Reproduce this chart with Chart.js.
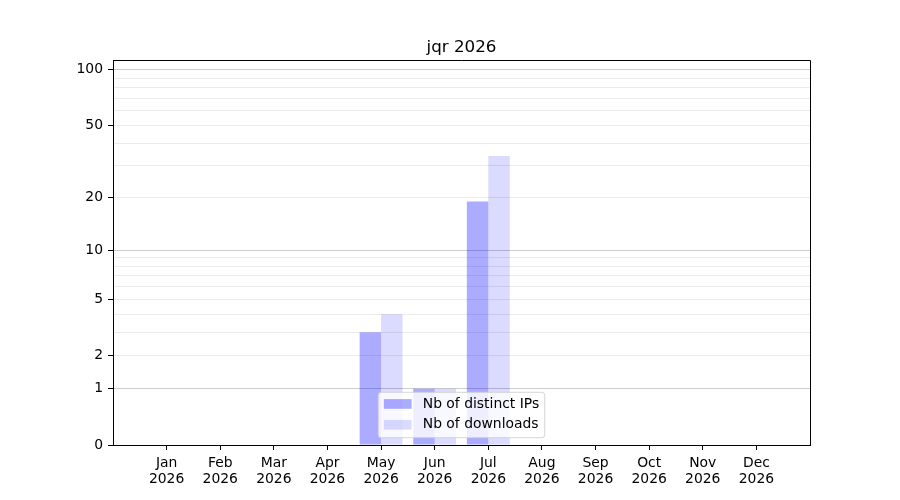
<!DOCTYPE html>
<html>
<head>
<meta charset="utf-8">
<title>jqr 2026</title>
<script src="https://cdn.jsdelivr.net/npm/chart.js@4.4.1/dist/chart.umd.min.js"></script>
<style>
  body { margin: 0; background: #fff; }
</style>
</head>
<body>
<canvas id="mycanvas" width="900" height="500"></canvas>
<script>
var months = ['Jan', 'Feb', 'Mar', 'Apr', 'May', 'Jun', 'Jul', 'Aug', 'Sep', 'Oct', 'Nov', 'Dec'];
var year = '2026';
var distinctIPs = [0, 0, 0, 0, 3, 1, 19, 0, 0, 0, 0, 0];
var downloads = [0, 0, 0, 0, 4, 1, 34, 0, 0, 0, 0, 0];
var yLabelled = [0, 1, 2, 5, 10, 20, 50, 100];
var yMinor = [3, 4, 6, 7, 8, 9, 30, 40, 60, 70, 80, 90];
var yMajorGrid = [1, 10, 100];
var yTop = 113;
var title = 'jqr 2026';

var FONT = 'DejaVu Sans';
var FS = 13.9;

// symlog-like axis: position = log10(1 + v)
function f(v) { return Math.log10(1 + v); }
function inv(p) { return Math.round(Math.pow(10, p) - 1); }

var ipColor = 'rgba(0, 0, 255, 0.33)';
var dlColor = 'rgba(0, 0, 255, 0.14)';

var yAll = yLabelled.concat(yMinor).sort(function(a, b) { return a - b; });

var framePlugin = {
  id: 'frame',
  afterDatasetsDraw: function(chart) {
    var ctx = chart.ctx, a = chart.chartArea;
    ctx.save();
    ctx.strokeStyle = '#000';
    ctx.lineWidth = 1;
    ctx.beginPath();
    ctx.moveTo(a.left, a.top + 0.5);
    ctx.lineTo(a.right + 0.5, a.top + 0.5);
    ctx.lineTo(a.right + 0.5, a.bottom);
    ctx.stroke();
    ctx.restore();
  },
  afterDraw: function(chart) {
    var ctx = chart.ctx, a = chart.chartArea;
    ctx.save();
    // title, centred over the plot
    ctx.font = '16.7px "' + FONT + '"';
    ctx.fillStyle = '#000';
    ctx.textAlign = 'center';
    ctx.textBaseline = 'alphabetic';
    ctx.fillText(title, (a.left + a.right) / 2, a.top - 8);

    // legend, lower center
    var items = [
      { text: 'Nb of distinct IPs', color: ipColor },
      { text: 'Nb of downloads', color: dlColor }
    ];
    ctx.font = FS + 'px "' + FONT + '"';
    var tw = 0;
    items.forEach(function(it) { tw = Math.max(tw, ctx.measureText(it.text).width); });
    var pad = 5.6, handle = 27.8, gap = 11.1;
    var w = pad + handle + gap + tw + pad;
    var h = 45.4;
    var x = (a.left + a.right) / 2 - w / 2;
    var y = a.bottom - 7.3 - h;
    ctx.beginPath();
    if (ctx.roundRect) ctx.roundRect(x, y, w, h, 3); else ctx.rect(x, y, w, h);
    ctx.fillStyle = 'rgba(255, 255, 255, 0.8)';
    ctx.fill();
    ctx.strokeStyle = 'rgba(204, 204, 204, 0.8)';
    ctx.lineWidth = 1;
    ctx.stroke();
    var rows = [11.7, 32.5];
    items.forEach(function(it, i) {
      var cy = y + rows[i];
      ctx.fillStyle = it.color;
      ctx.fillRect(x + pad, cy - 4.9, handle, 9.7);
      ctx.fillStyle = '#000';
      ctx.textBaseline = 'middle';
      ctx.textAlign = 'left';
      ctx.fillText(it.text, x + pad + handle + gap, cy);
    });
    ctx.restore();
  }
};

var chartdata = {
  datasets: [
    {
      label: 'Nb of distinct IPs',
      backgroundColor: ipColor,
      borderWidth: 0,
      data: distinctIPs.map(function(v, i) { return { x: i, y: f(v) }; })
    },
    {
      label: 'Nb of downloads',
      backgroundColor: dlColor,
      borderWidth: 0,
      data: downloads.map(function(v, i) { return { x: i, y: f(v) }; })
    }
  ]
};

var ctx = document.getElementById('mycanvas');

var barGraph = new Chart(ctx, {
  type: 'bar',
  data: chartdata,
  plugins: [framePlugin],
  options: {
    responsive: false,
    animation: false,
    layout: { padding: { top: 60, right: 90, bottom: 0, left: 0 } },
    datasets: { bar: { categoryPercentage: 0.8, barPercentage: 1.0 } },
    plugins: {
      legend: { display: false },
      tooltip: { enabled: false },
      title: { display: false }
    },
    scales: {
      x: {
        type: 'linear',
        min: -1,
        max: 12,
        offset: false,
        afterBuildTicks: function(s) {
          s.ticks = months.map(function(m, i) { return { value: i }; });
        },
        afterFit: function(s) { s.height = 55; },
        ticks: {
          autoSkip: false,
          maxRotation: 0,
          padding: 5,
          color: '#000',
          font: { family: FONT, size: FS, lineHeight: 1.17 },
          callback: function(v) { return [months[v], year]; }
        },
        grid: { offset: false, drawOnChartArea: false, tickLength: 5, tickColor: '#000' },
        border: { color: '#000', width: 1 }
      },
      y: {
        type: 'linear',
        min: 0,
        max: f(yTop),
        afterBuildTicks: function(s) {
          s.ticks = yAll.map(function(v) { return { value: f(v) }; });
        },
        afterFit: function(s) { s.width = 113; },
        ticks: {
          autoSkip: false,
          padding: 5,
          color: '#000',
          font: { family: FONT, size: FS },
          callback: function(v) {
            var n = inv(v);
            return yLabelled.indexOf(n) >= 0 ? String(n) : '';
          }
        },
        grid: {
          tickLength: 5,
          color: function(c) {
            var n = inv(c.tick.value);
            if (n === 0) return 'rgba(0,0,0,0)';
            return yMajorGrid.indexOf(n) >= 0 ? '#cccccc' : '#ebebeb';
          },
          tickColor: function(c) {
            var n = inv(c.tick.value);
            return yLabelled.indexOf(n) >= 0 ? '#000' : 'rgba(0,0,0,0)';
          }
        },
        border: { color: '#000', width: 1 }
      }
    }
  }
});
</script>
</body>
</html>
